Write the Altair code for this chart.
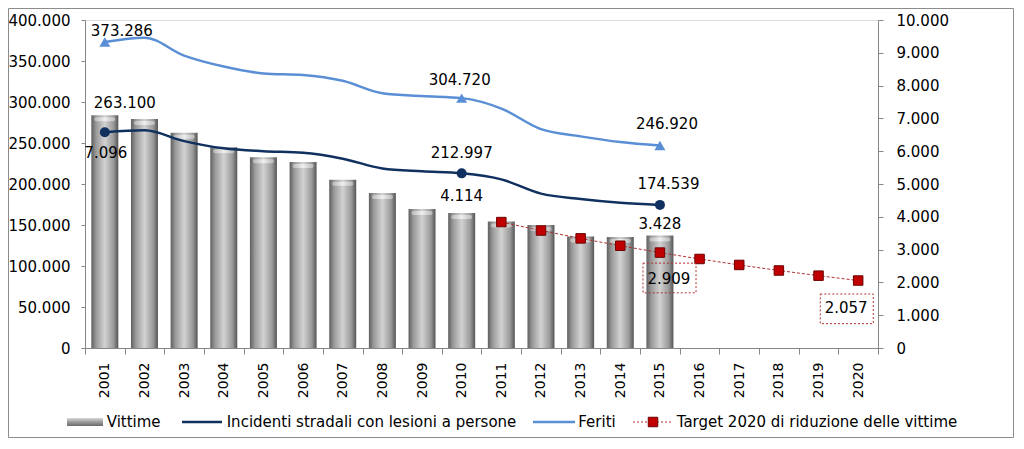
import altair as alt
import pandas as pd

# ---------------- data ----------------
years = [str(y) for y in range(2001, 2021)]
obs_years = years[:15]
vittime = [7096, 6980, 6563, 6122, 5818, 5669, 5131, 4725, 4237, 4114, 3860, 3753, 3401, 3381, 3428]
incidenti = [263100, 265402, 252271, 243490, 240011, 238124, 230871, 218963, 215405, 212997,
             205638, 188228, 181660, 177031, 174539]
feriti = [373286, 378492, 356475, 343179, 334858, 332955, 325850, 310745, 307258, 304720,
          292019, 266864, 258093, 251147, 246920]
target_years = years[10:]
target = [3839, 3582, 3342, 3118, 2909, 2714, 2532, 2363, 2205, 2057]
marker_years = ["2001", "2010", "2015"]
legend_labels = ["Vittime", "Incidenti stradali con lesioni a persone", "Feriti",
                 "Target 2020 di riduzione delle vittime"]
left_ticks = list(range(0, 400001, 50000))
right_ticks = list(range(0, 10001, 1000))


def fmt(v):
    return f"{v:,}".replace(",", ".")


obs = pd.DataFrame({"year": obs_years, "vittime": vittime, "incidenti": incidenti, "feriti": feriti})
obs["vittime_lbl"] = [fmt(v) for v in vittime]
obs["incidenti_lbl"] = [fmt(v) for v in incidenti]
obs["feriti_lbl"] = [fmt(v) for v in feriti]
tgt = pd.DataFrame({"year": target_years, "target": target})
tgt["target_lbl"] = [fmt(v) for v in target]

# ---------------- styles ----------------
FONT = "DejaVu Sans"
GRAY = "#868686"
C_INC = "#10305F"
C_FER = "#5A8FD6"
C_TGT_LINE = "#B03030"
C_TGT = "#C00000"
W, H = 793, 328

x_axis = alt.Axis(title=None, labelAngle=270, labelAlign="right", labelBaseline="middle",
                  labelPadding=8, tickSize=6, tickBand="extent", domainColor=GRAY, tickColor=GRAY,
                  labelFont=FONT, labelFontSize=14, labelColor="#000", grid=False)
X = alt.X("year:N", scale=alt.Scale(domain=years, paddingInner=0, paddingOuter=0), axis=x_axis)

left_axis = alt.Axis(title=None, orient="left", values=left_ticks,
                     labelExpr="replace(format(datum.value, ','), ',', '.')",
                     tickSize=4, labelPadding=11, grid=False, domainColor=GRAY, tickColor=GRAY,
                     labelFont=FONT, labelFontSize=15, labelColor="#000")
right_axis = alt.Axis(title=None, orient="right", values=right_ticks,
                      labelExpr="replace(format(datum.value, ','), ',', '.')",
                      tickSize=5, labelPadding=13, grid=False, domainColor=GRAY, tickColor=GRAY,
                      labelFont=FONT, labelFontSize=15, labelColor="#000")


def YL(f):
    return alt.Y(f"{f}:Q", scale=alt.Scale(domain=[0, 400000], nice=False), axis=left_axis)


def YR(f):
    return alt.Y(f"{f}:Q", scale=alt.Scale(domain=[0, 10000], nice=False), axis=right_axis)


def label(df, year, field, lbl, dx, dy, Y):
    return alt.Chart(df).transform_filter(alt.datum.year == year).mark_text(
        font=FONT, fontSize=15, color="#000", align="center", baseline="middle", dx=dx, dy=dy
    ).encode(x=X, y=Y(field), text=f"{lbl}:N")


bar_grad = alt.Gradient(
    gradient="linear",
    stops=[alt.GradientStop(color="#5f5f5f", offset=0),
           alt.GradientStop(color="#9a9a9a", offset=0.18),
           alt.GradientStop(color="#d2d2d2", offset=0.5),
           alt.GradientStop(color="#9a9a9a", offset=0.82),
           alt.GradientStop(color="#555555", offset=1)],
    x1=0, x2=1, y1=0, y2=0)

cap_grad = alt.Gradient(
    gradient="linear",
    stops=[alt.GradientStop(color="#bdbdbd", offset=0),
           alt.GradientStop(color="#f2f2f2", offset=0.5),
           alt.GradientStop(color="#bdbdbd", offset=1)],
    x1=0, x2=1, y1=0, y2=0)

legend_grad = alt.Gradient(
    gradient="linear",
    stops=[alt.GradientStop(color="#d8d8d8", offset=0),
           alt.GradientStop(color="#9a9a9a", offset=0.5),
           alt.GradientStop(color="#6a6a6a", offset=1)],
    x1=0, x2=0, y1=0, y2=1)

BOX = "M-1,-0.56L1,-0.56L1,0.56L-1,0.56Z"

# ---------------- right-axis group (bars, target) ----------------
bars = alt.Chart(obs).mark_bar(size=27, color=bar_grad).encode(x=X, y=YR("vittime"))
caps = alt.Chart(obs).mark_tick(size=21, thickness=4, color=cap_grad, yOffset=4, opacity=0.9,
                                cornerRadius=2).encode(x=X, y=YR("vittime"))
tline = alt.Chart(tgt).mark_line(color=C_TGT_LINE, strokeDash=[3, 2], strokeWidth=1).encode(
    x=X, y=YR("target"))
tpts = alt.Chart(tgt).mark_point(shape="square", filled=True, fill=C_TGT, stroke="#6B0000",
                                 strokeWidth=1, size=90, opacity=1).encode(x=X, y=YR("target"))
box1 = alt.Chart(tgt).transform_filter(alt.datum.year == "2015").mark_point(
    shape=BOX, size=53 * 53, filled=False, stroke=C_TGT_LINE, strokeDash=[2, 2], strokeWidth=1,
    opacity=1, xOffset=9.6, yOffset=25.4).encode(x=X, y=YR("target"))
box2 = alt.Chart(tgt).transform_filter(alt.datum.year == "2020").mark_point(
    shape=BOX, size=53 * 53, filled=False, stroke=C_TGT_LINE, strokeDash=[2, 2], strokeWidth=1,
    opacity=1, xOffset=-11.4, yOffset=28.3).encode(x=X, y=YR("target"))

right_group = alt.layer(
    bars, caps, tline, tpts, box1, box2,
    label(obs, "2001", "vittime", "vittime_lbl", 1, 38, YR),
    label(obs, "2010", "vittime", "vittime_lbl", 0, -17, YR),
    label(obs, "2015", "vittime", "vittime_lbl", 0, -12, YR),
    label(tgt, "2015", "target", "target_lbl", 9, 26.5, YR),
    label(tgt, "2020", "target", "target_lbl", -12, 27.5, YR),
)

# ---------------- left-axis group (lines) ----------------
marker_filter = alt.FieldOneOfPredicate(field="year", oneOf=marker_years)
inc_line = alt.Chart(obs).mark_line(color=C_INC, strokeWidth=2.5, interpolate="monotone").encode(
    x=X, y=YL("incidenti"))
fer_line = alt.Chart(obs).mark_line(color=C_FER, strokeWidth=2.5, interpolate="monotone").encode(
    x=X, y=YL("feriti"))
inc_pts = alt.Chart(obs).transform_filter(marker_filter).mark_point(
    shape="circle", filled=True, color=C_INC, size=100, opacity=1).encode(x=X, y=YL("incidenti"))
fer_pts = alt.Chart(obs).transform_filter(marker_filter).mark_point(
    shape="triangle-up", filled=True, color=C_FER, size=120, opacity=1).encode(x=X, y=YL("feriti"))

one = pd.DataFrame({"k": [0]})
border = alt.Chart(one).mark_rect(fillOpacity=0, stroke="#8c8c8c", strokeWidth=1).encode(
    x=alt.value(-76.5), x2=alt.value(928.5), y=alt.value(-11.5), y2=alt.value(417.5))

LY = 402
leg_bar = alt.Chart(one).mark_rect(color=legend_grad).encode(
    x=alt.value(-18), x2=alt.value(18), y=alt.value(LY - 4), y2=alt.value(LY + 4))
leg_inc = alt.Chart(one).mark_rule(color=C_INC, strokeWidth=2.5).encode(
    x=alt.value(97), x2=alt.value(137), y=alt.value(LY))
leg_fer = alt.Chart(one).mark_rule(color=C_FER, strokeWidth=2.5).encode(
    x=alt.value(448), x2=alt.value(490), y=alt.value(LY))
leg_tgt = alt.Chart(one).mark_rule(color=C_TGT_LINE, strokeWidth=1, strokeDash=[2, 2]).encode(
    x=alt.value(548), x2=alt.value(588), y=alt.value(LY))
leg_sq = alt.Chart(one).mark_point(shape="square", filled=True, fill=C_TGT, stroke="#6B0000",
                                   strokeWidth=1, size=90, opacity=1).encode(
    x=alt.value(568), y=alt.value(LY))


def leg_text(txt, xpos):
    return alt.Chart(pd.DataFrame({"t": [txt]})).mark_text(
        font=FONT, fontSize=15, color="#000", align="left", baseline="middle").encode(
        text="t:N", x=alt.value(xpos), y=alt.value(LY))


left_group = alt.layer(
    inc_line, fer_line, inc_pts, fer_pts,
    label(obs, "2001", "feriti", "feriti_lbl", 17, -11, YL),
    label(obs, "2010", "feriti", "feriti_lbl", -2, -18, YL),
    label(obs, "2015", "feriti", "feriti_lbl", 7, -21.5, YL),
    label(obs, "2001", "incidenti", "incidenti_lbl", 20, -29.5, YL),
    label(obs, "2010", "incidenti", "incidenti_lbl", 0, -20, YL),
    label(obs, "2015", "incidenti", "incidenti_lbl", 8.5, -21, YL),
    border, leg_bar, leg_inc, leg_fer, leg_tgt, leg_sq,
    leg_text(legend_labels[0], 21.7),
    leg_text(legend_labels[1], 141.7),
    leg_text(legend_labels[2], 493.3),
    leg_text(legend_labels[3], 591.7),
)

chart = alt.layer(right_group, left_group).resolve_scale(y="independent").properties(
    width=W, height=H,
    padding={"left": 77, "top": 12, "right": 136, "bottom": 90},
    autosize=alt.AutoSizeParams(type="none"),
).configure_view(strokeWidth=0).configure(background="white")

chart.save("out.html", embed_options={"renderer": "svg", "actions": False})
